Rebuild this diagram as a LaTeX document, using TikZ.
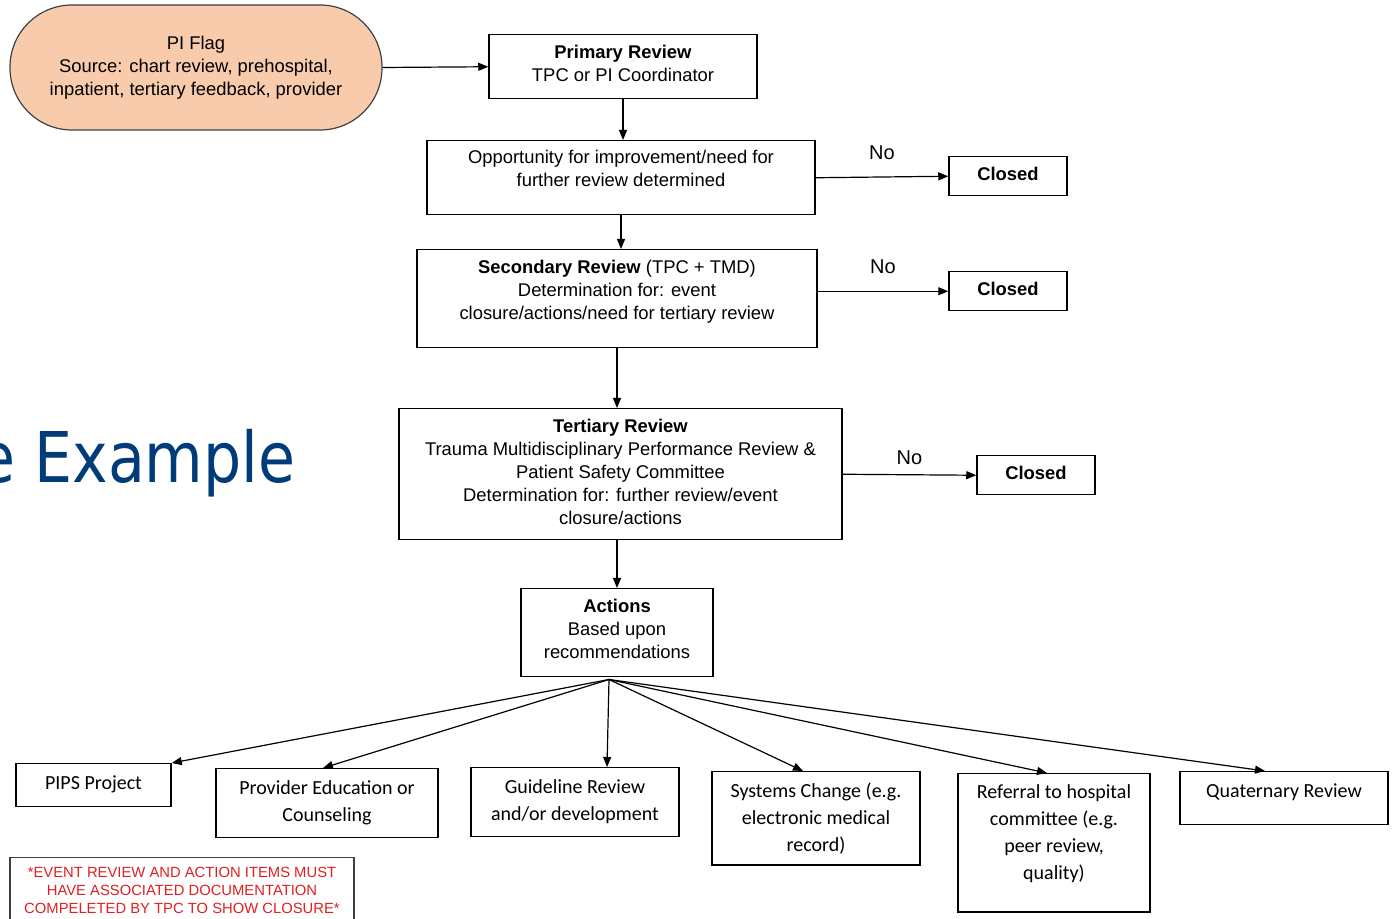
\documentclass[tikz,border=0pt]{standalone}
\usepackage{fontspec}
\setmainfont{Liberation Sans}
\newfontfamily\calfont{Carlito}
\newfontfamily\bigfont[FakeStretch=0.86]{DejaVu Sans}
\usetikzlibrary{arrows.meta}
\definecolor{flagfill}{RGB}{248,203,173}
\definecolor{titleblue}{RGB}{0,59,122}
\definecolor{notered}{RGB}{222,32,32}

\begin{document}
\begin{tikzpicture}[x=0.5pt, y=-0.5pt,
    box/.style={draw, line width=0.75pt, align=center, inner xsep=0pt, inner ysep=0pt,
      anchor=north, font=\fontsize{9.2}{11.5}\selectfont},
    lowbox/.style={box, font=\calfont\fontsize{10}{13.5}\selectfont},
    arr/.style={line width=0.6pt, -{Triangle[length=5pt, width=4pt]}}]
      \useasboundingbox (0,0) rectangle (1394,919);
      % title cut at the left
      \node[anchor=base east, inner sep=0pt, text=titleblue, font=\bigfont\fontsize{35}{40}\selectfont] (title) at (296,483) {e Example};
      % review chain
      \node[draw=black!75, fill=flagfill, line width=0.6pt, rounded corners=31pt, align=center,
        minimum width=186pt, minimum height=62.5pt, font=\fontsize{9.2}{11.5}\selectfont] (flag) at (196,67.5)
        {PI Flag\\Source: chart review, prehospital,\\inpatient, tertiary feedback, provider};
      \node[box, minimum width=134pt, text height=23.5pt, text depth=8.5pt] (prim) at (623,34)
        {\textbf{Primary Review}\\TPC or PI Coordinator};
      \node[box, minimum width=194pt, text height=23pt, text depth=14pt] (opp) at (621,140)
        {Opportunity for improvement/need for\\further review determined};
      \node[box, minimum width=200pt, text height=35pt, text depth=14pt] (sec) at (617,249)
        {\textbf{Secondary Review} (TPC + TMD)\\Determination for: event\\closure/actions/need for tertiary review};
      \node[box, minimum width=221.5pt, text height=58pt, text depth=7.5pt] (ter) at (620.5,408)
        {\textbf{Tertiary Review}\\Trauma Multidisciplinary Performance Review \&\\Patient Safety Committee\\Determination for: further review/event\\closure/actions};
      \node[box, minimum width=96pt, text height=35pt, text depth=9pt] (act) at (617,588)
        {\textbf{Actions}\\Based upon\\recommendations};
      % closed
      \node[box, minimum width=59pt, text height=12pt, text depth=7.5pt] (cl1) at (1008,156) {\textbf{Closed}};
      \node[box, minimum width=59pt, text height=12pt, text depth=7.5pt] (cl2) at (1008,271) {\textbf{Closed}};
      \node[box, minimum width=59pt, text height=12pt, text depth=7.5pt] (cl3) at (1036,455) {\textbf{Closed}};
      % actions
      \node[lowbox, minimum width=77.5pt, text height=13pt, text depth=8.5pt] (pips) at (93.5,763) {PIPS Project};
      \node[lowbox, minimum width=111pt, text height=26.5pt, text depth=8pt] (proved) at (327,768)
        {Provider Education or\\Counseling};
      \node[lowbox, minimum width=104pt, text height=26.5pt, text depth=8pt] (guide) at (575,767)
        {Guideline Review\\and/or development};
      \node[lowbox, minimum width=104pt, text height=40pt, text depth=6.5pt] (sys) at (816,771)
        {Systems Change (e.g.\\electronic medical\\record)};
      \node[lowbox, minimum width=96pt, text height=53pt, text depth=16pt] (refer) at (1054,773)
        {Referral to hospital\\committee (e.g.\\peer review,\\quality)};
      \node[lowbox, minimum width=104pt, text height=13pt, text depth=13.5pt] (quat) at (1284,771)
        {Quaternary Review};
      \node[box, draw=black!75, line width=0.6pt, text=notered, font=\fontsize{7.4}{9}\selectfont,
        minimum width=172pt, text height=28pt, text depth=7pt] (note) at (182,857)
        {*EVENT REVIEW AND ACTION ITEMS MUST\\HAVE ASSOCIATED DOCUMENTATION\\COMPELETED BY TPC TO SHOW CLOSURE*};
      % connectors
      \draw[arr] (flag.east) -- (prim.west);
      \draw[arr] (prim.south) -- (prim.south |- opp.north);
      \draw[arr] (opp.south) -- (opp.south |- sec.north);
      \draw[arr] (sec.south) -- (sec.south |- ter.north);
      \draw[arr] (act.north |- ter.south) -- (act.north);
      \draw[arr] (opp.east) -- (cl1.west) node[midway, above=5pt] {No};
      \draw[arr] (sec.east |- cl2.west) -- (cl2.west) node[midway, above=5pt] {No};
      \draw[arr] (ter.east) -- (cl3.west) node[midway, above=1.5pt] {No};
      \coordinate (fan) at ([xshift=-4pt, yshift=-1pt]act.south);
      \draw[arr] (fan) -- (pips.north east);
      \draw[arr] (fan) -- ([xshift=-2pt]proved.north);
      \draw[arr] (fan) -- ([xshift=16pt]guide.north);
      \draw[arr] (fan) -- ([xshift=-6.5pt]sys.north);
      \draw[arr] (fan) -- ([xshift=-3.5pt]refer.north);
      \draw[arr] (fan) -- ([xshift=-9.5pt]quat.north);
\end{tikzpicture}
\end{document}
